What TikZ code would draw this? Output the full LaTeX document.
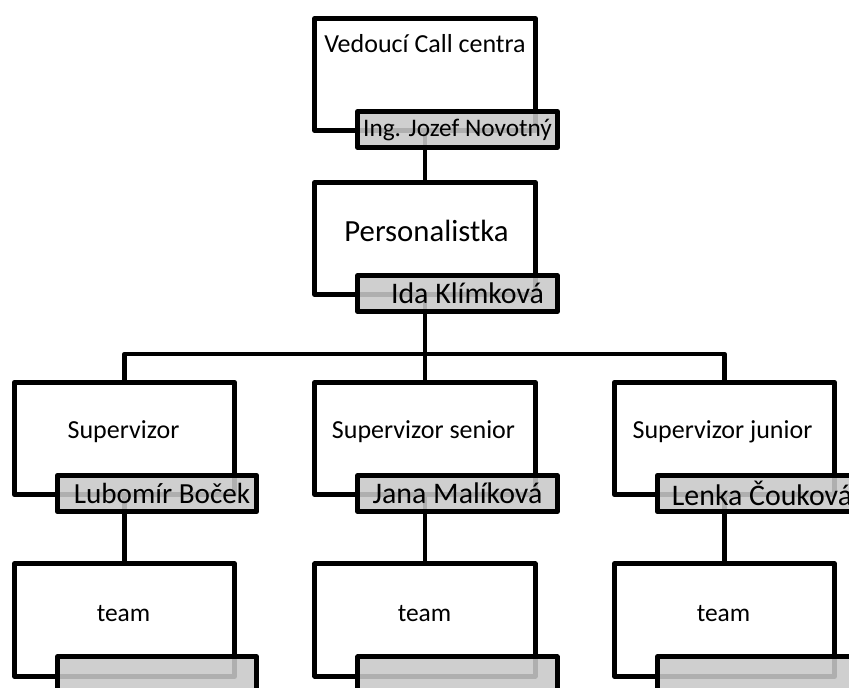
\documentclass[tikz,border=0pt]{standalone}
\usepackage{fontspec}
\setmainfont{Carlito}
\usetikzlibrary{positioning}

\begin{document}
\begin{tikzpicture}[
    x=0.02cm, y=-0.02cm,
    box/.style={rectangle, draw, line width=2.65pt, line join=round, minimum width=4.41cm, minimum height=2.25cm, inner sep=0pt},
    tag/.style={rectangle, draw, line width=2.65pt, line join=round, fill={rgb,255:red,200;green,200;blue,200}, fill opacity=0.88, text opacity=1, minimum width=3.99cm, minimum height=0.73cm, inner sep=0pt},
    title/.style={anchor=base, inner sep=0pt},
    wire/.style={line width=2.65pt, line join=round}
]
    \useasboundingbox (0,0) rectangle (849,688);
    \clip (0,0) rectangle (849,688);

    % boxes
    \node[box] (VC) at (425,74.5) {};
    \node[box] (PE) at (425,238.5) {};
    \node[box] (S1) at (124.5,438.5) {};
    \node[box] (S2) at (425,438.5) {};
    \node[box] (S3) at (724.5,438.5) {};
    \node[box] (T1) at (124.5,620) {};
    \node[box] (T2) at (425,620) {};
    \node[box] (T3) at (724.5,620) {};

    \node[title, font=\fontsize{14.8}{16}\selectfont] (VCt) at (425,53) {Vedoucí Call centra};
    \node[title, font=\fontsize{17.5}{19}\selectfont] (PEt) at (426.5,242) {Personalistka};
    \node[title, font=\fontsize{14.8}{16}\selectfont] (S1t) at (123.5,439) {Supervizor};
    \node[title, font=\fontsize{14.8}{16}\selectfont] (S2t) at (423.5,439) {Supervizor senior};
    \node[title, font=\fontsize{14.8}{16}\selectfont] (S3t) at (722.5,439) {Supervizor junior};
    \foreach \i/\x in {1/123.5, 2/424.5, 3/723.5}
        \node[title, font=\fontsize{14.5}{16}\selectfont] (T\i t) at (\x,622) {team};

    % connectors
    \coordinate (bar) at (425,354);
    \draw[wire] (VC.south) -- (PE.north);
    \draw[wire] (PE.south) -- (bar);
    \draw[wire] (S1.north) |- (bar) -| (S3.north);
    \draw[wire] (S2.north) -- (bar -| S2.north);
    \foreach \i in {1,2,3}
        \draw[wire] (S\i.south) -- (T\i.north);

    % names
    \node[tag, font=\fontsize{14.4}{16}\selectfont] (VCn) at ([xshift=0.65cm,yshift=0.07cm]VC.south) {Ing. Jozef Novotný};
    \node[tag, font=\fontsize{17}{19}\selectfont] (PEn) at ([xshift=0.65cm,yshift=0.07cm]PE.south) {\hspace*{0.4cm}Ida Klímková};
    \node[tag, font=\fontsize{16.6}{18}\selectfont] (S1n) at ([xshift=0.65cm,yshift=0.07cm]S1.south) {\hspace*{0.2cm}Lubomír Boček};
    \node[tag, font=\fontsize{17}{19}\selectfont] (S2n) at ([xshift=0.65cm,yshift=0.07cm]S2.south) {Jana Malíková};
    \node[tag, font=\fontsize{17}{19}\selectfont] (S3n) at ([xshift=0.65cm,yshift=0.07cm]S3.south) {\hspace*{0.2cm}Lenka Čouková};
    \foreach \i in {1,2,3}
        \node[tag] (T\i n) at ([xshift=0.65cm,yshift=0.07cm]T\i.south) {};
\end{tikzpicture}
\end{document}
